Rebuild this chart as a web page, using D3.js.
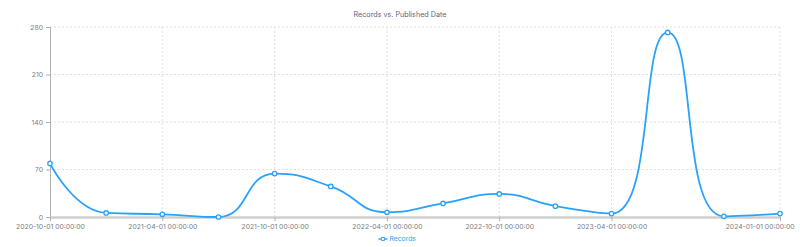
<!DOCTYPE html>
<html>
<head>
<meta charset="utf-8">
<script src="https://cdn.jsdelivr.net/npm/d3@7"></script>
<style>
  body { margin: 0; background: #fff; }
  text { font-family: Inter, "Noto Sans", sans-serif; }
</style>
</head>
<body>
<script>
// quarterly publish dates and record counts
const dates = ["2020-10-01 00:00:00", "2021-01-01 00:00:00", "2021-04-01 00:00:00", "2021-07-01 00:00:00",
  "2021-10-01 00:00:00", "2022-01-01 00:00:00", "2022-04-01 00:00:00", "2022-07-01 00:00:00",
  "2022-10-01 00:00:00", "2023-01-01 00:00:00", "2023-04-01 00:00:00", "2023-07-01 00:00:00",
  "2023-10-01 00:00:00", "2024-01-01 00:00:00"];
const records = [79, 6, 4, 0, 64, 45, 7, 20, 34, 16, 5, 272, 1, 5];
const yTicks = [0, 70, 140, 210, 280];
const shownLabels = [0, 2, 4, 6, 8, 10, 13];

const W = 800, H = 247;
const gLeft = 50, gRight = 780, gTop = 27, gBottom = 217;
const blue = "#29a2fb";
const grey = "#7a7d85";

let svg = d3.select("body").append("svg")
  .attr("width", W)
  .attr("height", H);

let x = d3.scalePoint().domain(d3.range(dates.length)).range([gLeft, gRight]).padding(0);
let y = d3.scaleLinear().domain([0, 280]).range([gBottom, gTop]);

// grid
svg.append("g").selectAll("line")
  .data(yTicks.slice(1))
  .enter().append("line")
    .attr("x1", gLeft).attr("x2", gRight)
    .attr("y1", d => y(d)).attr("y2", d => y(d))
    .attr("stroke", "#e0e0e0")
    .attr("stroke-dasharray", "2,2");

svg.append("g").selectAll("line")
  .data(shownLabels.slice(1))
  .enter().append("line")
    .attr("x1", d => x(d)).attr("x2", d => x(d))
    .attr("y1", gTop).attr("y2", gBottom)
    .attr("stroke", "#e0e0e0")
    .attr("stroke-dasharray", "2,2");

// y axis
let yAxis = svg.append("g")
  .attr("transform", `translate(${gLeft},0)`)
  .call(d3.axisLeft(y).tickValues(yTicks).tickSize(4).tickPadding(3));
yAxis.select(".domain").attr("stroke", "#b0b0b0");
yAxis.selectAll(".tick line").attr("stroke", "#b0b0b0");
yAxis.selectAll("text").attr("fill", grey).attr("font-size", "6.8px").attr("font-family", "Inter, sans-serif");

// x axis
let xAxis = svg.append("g")
  .attr("transform", `translate(0,${gBottom})`)
  .call(d3.axisBottom(x).tickValues(shownLabels).tickFormat(i => dates[i]).tickSize(4).tickSizeOuter(0).tickPadding(3));
xAxis.select(".domain").attr("stroke", "#cfcfcf").attr("stroke-width", 2.5);
xAxis.selectAll(".tick line").attr("stroke", "#b0b0b0");
xAxis.selectAll("text").attr("fill", grey).attr("font-size", "6.8px").attr("font-family", "Inter, sans-serif");
// last label is pushed inside the canvas
xAxis.selectAll(".tick").filter(d => d === dates.length - 1).select("text")
  .attr("text-anchor", "end")
  .attr("x", W - 6 - x(dates.length - 1));

// echarts-like smooth path (smooth = 0.5, control points clamped to neighbours)
function smoothPath(pts, smooth) {
  let p = d3.path();
  p.moveTo(pts[0][0], pts[0][1]);
  let cpx0 = pts[0][0], cpy0 = pts[0][1];
  for (let i = 1; i < pts.length; i++) {
    let [px, py] = pts[i - 1];
    let [cx, cy] = pts[i];
    let nx, ny, cpx1, cpy1, ncx, ncy;
    if (i < pts.length - 1) {
      [nx, ny] = pts[i + 1];
      let vx = nx - px, vy = ny - py;
      let lp = Math.hypot(cx - px, cy - py), ln = Math.hypot(nx - cx, ny - cy);
      let r = ln / (ln + lp);
      ncx = cx + vx * smooth * r;
      ncy = cy + vy * smooth * r;
      ncx = Math.min(ncx, Math.max(nx, cx)); ncx = Math.max(ncx, Math.min(nx, cx));
      ncy = Math.min(ncy, Math.max(ny, cy)); ncy = Math.max(ncy, Math.min(ny, cy));
      vx = ncx - cx; vy = ncy - cy;
      cpx1 = cx - vx * lp / ln;
      cpy1 = cy - vy * lp / ln;
      cpx1 = Math.min(cpx1, Math.max(px, cx)); cpx1 = Math.max(cpx1, Math.min(px, cx));
      cpy1 = Math.min(cpy1, Math.max(py, cy)); cpy1 = Math.max(cpy1, Math.min(py, cy));
      vx = cx - cpx1; vy = cy - cpy1;
      ncx = cx + vx * ln / lp;
      ncy = cy + vy * ln / lp;
    } else {
      cpx1 = cx; cpy1 = cy;
    }
    p.bezierCurveTo(cpx0, cpy0, cpx1, cpy1, cx, cy);
    cpx0 = ncx; cpy0 = ncy;
  }
  return p.toString();
}

let pts = records.map((v, i) => [x(i), y(v)]);

svg.append("path")
  .attr("d", smoothPath(pts, 0.5))
  .attr("fill", "none")
  .attr("stroke", blue)
  .attr("stroke-width", 1.8);

svg.append("g").selectAll("circle")
  .data(records)
  .enter().append("circle")
    .attr("cx", (d, i) => x(i))
    .attr("cy", d => y(d))
    .attr("r", 2.2)
    .attr("fill", "#fff")
    .attr("stroke", blue)
    .attr("stroke-width", 1.3);

// title
svg.append("text")
  .attr("x", W / 2)
  .attr("y", 16.5)
  .attr("text-anchor", "middle")
  .attr("font-size", "7.2px")
  .attr("fill", "#5c6680")
  .text("Records vs. Published Date");

// legend
let lg = svg.append("g").attr("transform", "translate(383,239)");
lg.append("line").attr("x1", -4.5).attr("x2", 4.5).attr("stroke", blue).attr("stroke-width", 1.4);
lg.append("circle").attr("r", 1.8).attr("fill", "#fff").attr("stroke", blue).attr("stroke-width", 1.1);
lg.append("text")
  .attr("x", 6.5)
  .attr("y", 2.4)
  .attr("font-size", "6.8px")
  .attr("fill", blue)
  .text("Records");
</script>
</body>
</html>
